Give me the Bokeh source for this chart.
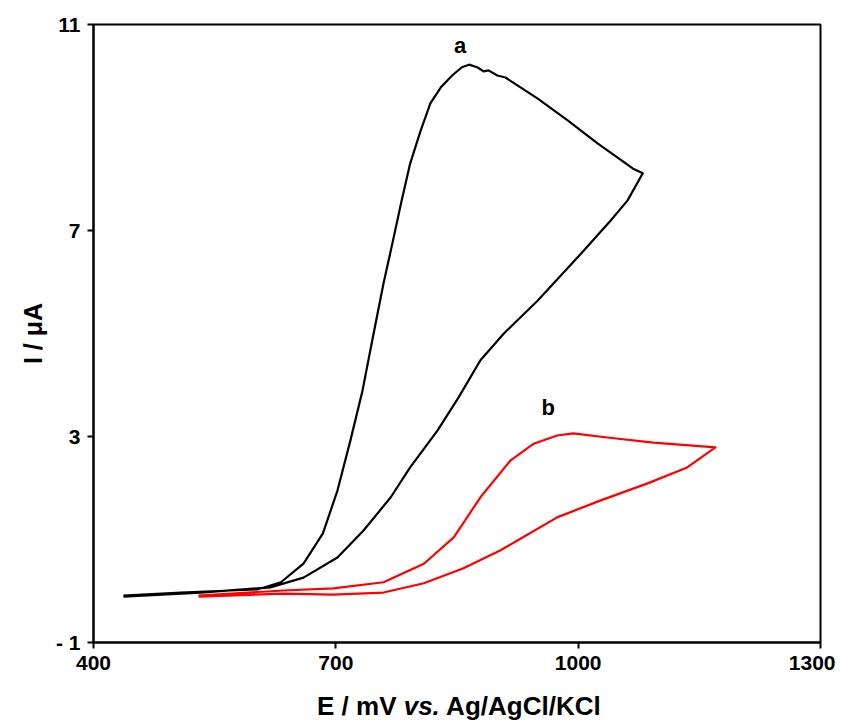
from bokeh.plotting import figure
from bokeh.models import Label, FixedTicker, Range1d, Div
from bokeh.layouts import column
from bokeh.embed import file_html
from bokeh.resources import INLINE

# Curve a (black): forward + reverse scan
a_E = [437, 508, 570, 603, 632, 660, 684, 702, 718, 733, 745, 759, 770, 781, 792, 805, 817, 830, 844, 856, 865,
       875, 883, 889, 900, 910, 950, 987, 1024, 1068, 1080,
       1061, 1040, 1007, 950, 908, 879, 852, 826, 792, 768, 734, 702, 660, 619, 533, 437]
a_I = [-0.09, -0.03, 0.01, 0.03, 0.17, 0.53, 1.12, 1.95, 2.92, 3.89, 4.86, 5.97, 6.75, 7.55, 8.30, 8.94, 9.47, 9.78, 10.01, 10.17, 10.22,
       10.17, 10.09, 10.11, 10.01, 9.97, 9.56, 9.14, 8.69, 8.20, 8.11,
       7.58, 7.19, 6.61, 5.64, 5.00, 4.48, 3.76, 3.12, 2.40, 1.82, 1.17, 0.65, 0.26, 0.07, -0.03, -0.11]

# Curve b (red): forward + reverse scan
b_E = [530, 635, 697, 759, 809, 846, 879, 916, 945, 974, 994, 1036, 1093, 1170,
       1135, 1086, 1028, 974, 929, 904, 858, 809, 759, 697, 635, 530]
b_I = [-0.09, 0.01, 0.05, 0.17, 0.53, 1.04, 1.82, 2.53, 2.86, 3.02, 3.06, 2.98, 2.88, 2.79,
       2.40, 2.09, 1.76, 1.43, 1.02, 0.79, 0.44, 0.15, -0.03, -0.07, -0.05, -0.11]

x_ticks = [400, 700, 1000, 1300]
y_ticks = [-1, 3, 7, 11]

FONT = "Liberation Sans"

p = figure(width=835, height=694, output_backend="svg", toolbar_location=None,
           x_range=Range1d(400, 1300), y_range=Range1d(-1, 11),
           min_border_left=93, min_border_right=15, min_border_top=24, min_border_bottom=52)
p.background_fill_color = "white"
p.border_fill_color = "white"
p.grid.visible = False
p.outline_line_color = "black"
p.outline_line_width = 2

p.line(a_E, a_I, line_color="black", line_width=2.2, line_join="round")
p.line(b_E, b_I, line_color="#ff0000", line_width=2.2, line_join="round")

for ax in (p.xaxis[0], p.yaxis[0]):
    ax.axis_line_width = 2
    ax.axis_line_color = "black"
    ax.major_tick_line_width = 2
    ax.major_tick_out = 6
    ax.major_tick_in = 0
    ax.minor_tick_line_color = None
    ax.major_label_text_font = FONT
    ax.major_label_text_font_style = "bold"
    ax.major_label_text_font_size = "21px"
    ax.major_label_text_color = "black"
    ax.major_label_standoff = 7

p.xaxis.ticker = FixedTicker(ticks=x_ticks)
p.yaxis.ticker = FixedTicker(ticks=y_ticks)
p.yaxis.major_label_overrides = {-1: "- 1"}

p.yaxis.axis_label = "I / \u03bcA"
p.yaxis.axis_label_text_font = FONT
p.yaxis.axis_label_text_font_style = "bold"
p.yaxis.axis_label_text_font_size = "25px"
p.yaxis.axis_label_text_color = "black"
p.yaxis.axis_label_standoff = 6

# curve labels
p.add_layout(Label(x=854, y=10.59, text="a", text_font=FONT, text_font_style="bold",
                   text_font_size="22px", text_color="black", text_align="center", text_baseline="middle"))
p.add_layout(Label(x=963, y=3.56, text="b", text_font=FONT, text_font_style="bold",
                   text_font_size="22px", text_color="black", text_align="center", text_baseline="middle"))

# x axis title with italic "vs."
xtitle = Div(text="E / mV <i>vs.</i> Ag/AgCl/KCl", width=835, height=28,
             styles={"font-family": FONT, "font-size": "26px", "font-weight": "bold",
                     "line-height": "25px", "color": "black", "padding-left": "317px",
                     "margin": "0", "white-space": "nowrap"})

layout = column(p, xtitle, spacing=0)
open("out.html", "w").write(file_html(layout, INLINE))
